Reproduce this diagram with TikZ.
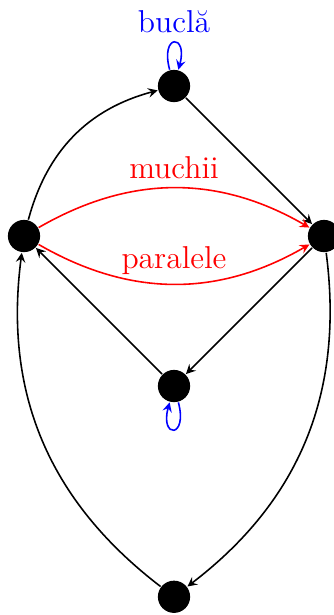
\documentclass[tikz,border=0pt]{standalone}
\usepackage{tikz}

\begin{document}
\begin{tikzpicture}[>=stealth, semithick, varf/.style={circle,fill=black,inner sep=0pt,minimum size=4.3mm}, eticheta/.style={font=\large}]
\useasboundingbox (-2.32,-3.053) rectangle (2.12,5.147);
\node[varf] (1) at (0,4) {};
\node[varf] (2) at (-2,2) {};
\node[varf] (3) at (2,2) {};
\node[varf] (4) at (0,0) {};
\node[varf] (5) at (0,-2.81) {};
\draw[->] (2) to[bend left=30] (1);
\draw[->] (1) -- (3);
\draw[->] (3) -- (4);
\draw[->] (4) -- (2);
\draw[->] (3) to[bend left=30] (5);
\draw[->] (5) to[bend left=30] (2);
\draw[->,red] (2) to[bend left=30] node[above,eticheta] {muchii} (3);
\draw[->,red] (2) to[bend right=30] node[above,eticheta] {paralele} (3);
\draw[->,blue] (1) to[loop above] node[above,eticheta] {buclă} (1);
\draw[->,blue] (4) to[loop below] (4);
\end{tikzpicture}
\end{document}
